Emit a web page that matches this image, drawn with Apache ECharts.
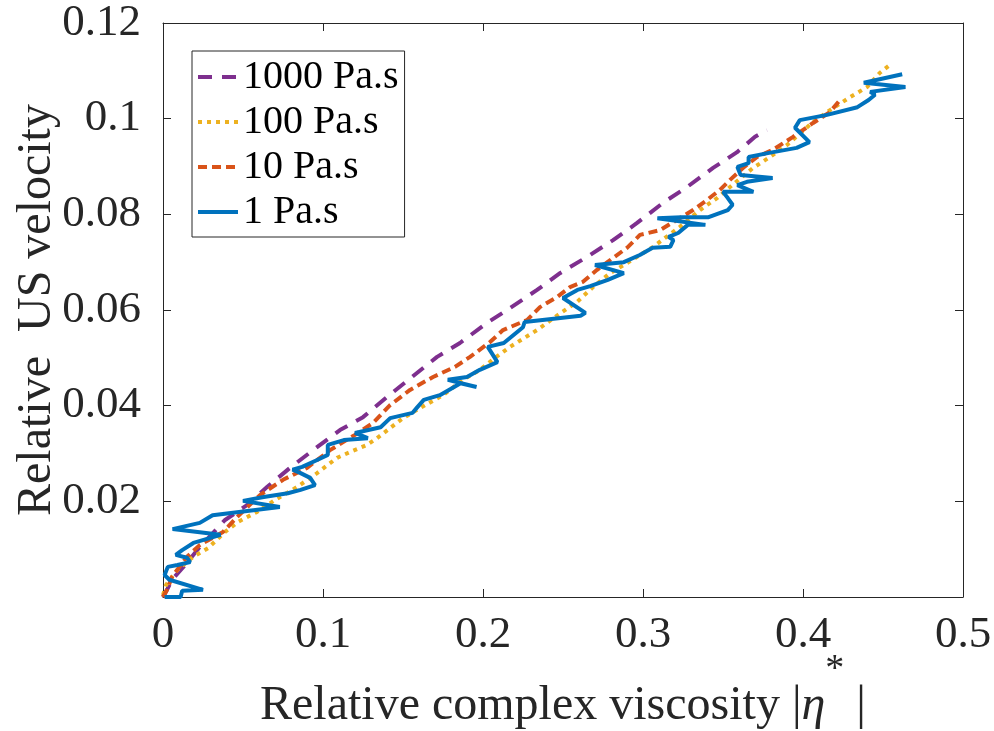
<!DOCTYPE html>
<html>
<head>
<meta charset="utf-8">
<script src="https://cdn.jsdelivr.net/npm/echarts@6/dist/echarts.min.js"></script>
<style>
  html, body { margin: 0; padding: 0; background: #fff; }
  #chart { width: 994px; height: 731px; }
</style>
</head>
<body>
<div id="chart"></div>
<script>
// axis ticks
const xTicks = [0, 0.1, 0.2, 0.3, 0.4, 0.5];
const yTicks = [0, 0.02, 0.04, 0.06, 0.08, 0.1, 0.12];
const legendNames = ['1000 Pa.s', '100 Pa.s', '10 Pa.s', '1 Pa.s'];

// 1000 Pa.s
const x1000 = [0, 0.0025, 0.0056, 0.0138, 0.0231, 0.0388, 0.0525, 0.065, 0.0794, 0.0938, 0.1106, 0.125, 0.140, 0.1556, 0.1713, 0.1856, 0.2025, 0.2169, 0.2338, 0.2481, 0.265, 0.2813, 0.2963, 0.3125, 0.3275, 0.3438, 0.3588, 0.370, 0.3775];
const y1000 = [0, 0.0015, 0.0036, 0.0067, 0.0105, 0.0161, 0.0192, 0.0230, 0.0270, 0.0307, 0.0349, 0.0376, 0.0418, 0.0460, 0.0502, 0.0531, 0.0573, 0.0604, 0.0642, 0.0677, 0.0711, 0.0746, 0.0782, 0.0824, 0.0857, 0.0897, 0.0930, 0.0962, 0.0976];

// 100 Pa.s
const x100 = [0, 0.0019, 0.0088, 0.0188, 0.0281, 0.0388, 0.0469, 0.0588, 0.07, 0.0838, 0.0963, 0.1088, 0.1169, 0.1275, 0.1338, 0.15, 0.1638, 0.175, 0.1875, 0.1981, 0.2075, 0.2169, 0.2338, 0.2469, 0.2588, 0.2688, 0.2794, 0.29, 0.3063, 0.3231, 0.3356, 0.3463, 0.3575, 0.3688, 0.3794, 0.39, 0.4063, 0.4169, 0.4294, 0.44, 0.4481, 0.4556];
const y100 = [0.0004, 0.0025, 0.0056, 0.0084, 0.0102, 0.0136, 0.0157, 0.0178, 0.0203, 0.0230, 0.0259, 0.0291, 0.0303, 0.0318, 0.0332, 0.0374, 0.0401, 0.0422, 0.0454, 0.0475, 0.0500, 0.0523, 0.0558, 0.0590, 0.0617, 0.0648, 0.0677, 0.0698, 0.0732, 0.0774, 0.0809, 0.0834, 0.0866, 0.0897, 0.0920, 0.0945, 0.0993, 0.1018, 0.1045, 0.1066, 0.1096, 0.1116];

// 10 Pa.s
const x10 = [0, 0.0025, 0.0056, 0.015, 0.0231, 0.0375, 0.0463, 0.0606, 0.075, 0.09, 0.1044, 0.12, 0.1313, 0.1419, 0.1544, 0.1688, 0.1825, 0.1919, 0.2044, 0.2125, 0.2275, 0.2356, 0.2463, 0.2544, 0.2625, 0.2713, 0.2813, 0.29, 0.2981, 0.3106, 0.3313, 0.34, 0.3481, 0.3544, 0.3625, 0.3713, 0.3813, 0.3938, 0.4063, 0.4169, 0.4231];
const y10 = [0, 0.0015, 0.0042, 0.0084, 0.0109, 0.0136, 0.0167, 0.0213, 0.0245, 0.0270, 0.0307, 0.0339, 0.0364, 0.0401, 0.0433, 0.0460, 0.0481, 0.0502, 0.0533, 0.0558, 0.0579, 0.0606, 0.0627, 0.0648, 0.0659, 0.0684, 0.0709, 0.0730, 0.0757, 0.0767, 0.0809, 0.0830, 0.0851, 0.0872, 0.0897, 0.0920, 0.0935, 0.0962, 0.0991, 0.1014, 0.1039];

// 1 Pa.s
const x1 = [0.001, 0.011, 0.012, 0.025, 0.026, 0.004, 0.001, 0.003, 0.009, 0.017, 0.015, 0.008, 0.012, 0.019, 0.036, 0.006, 0.023, 0.031, 0.073, 0.050, 0.063, 0.078, 0.086, 0.095, 0.092, 0.086, 0.081, 0.087, 0.096, 0.103, 0.103, 0.113, 0.128, 0.120, 0.136, 0.142, 0.156, 0.159, 0.163, 0.173, 0.186, 0.196, 0.178, 0.190, 0.198, 0.209, 0.203, 0.213, 0.225, 0.226, 0.261, 0.264, 0.250, 0.259, 0.267, 0.278, 0.288, 0.270, 0.288, 0.298, 0.306, 0.317, 0.319, 0.316, 0.322, 0.328, 0.339, 0.309, 0.324, 0.341, 0.353, 0.356, 0.353, 0.350, 0.369, 0.359, 0.365, 0.381, 0.361, 0.359, 0.366, 0.366, 0.378, 0.396, 0.404, 0.395, 0.398, 0.415, 0.434, 0.441, 0.445, 0.442, 0.464, 0.438, 0.462];
const y1 = [0, 0, 0.0013, 0.0015, 0.0019, 0.0036, 0.0046, 0.0063, 0.0067, 0.0073, 0.0082, 0.0088, 0.0098, 0.0113, 0.0130, 0.0142, 0.0155, 0.0171, 0.0188, 0.0201, 0.0209, 0.0217, 0.0224, 0.0234, 0.0249, 0.0259, 0.0266, 0.0272, 0.0286, 0.0297, 0.0318, 0.0328, 0.0332, 0.0343, 0.0355, 0.0374, 0.0385, 0.0397, 0.0412, 0.0422, 0.0447, 0.0439, 0.0454, 0.0460, 0.0475, 0.0491, 0.0523, 0.0531, 0.0564, 0.0575, 0.0588, 0.0594, 0.0625, 0.0642, 0.0650, 0.0663, 0.0677, 0.0694, 0.0700, 0.0715, 0.0730, 0.0732, 0.0746, 0.0753, 0.0761, 0.0778, 0.0778, 0.0792, 0.0794, 0.0794, 0.0809, 0.0820, 0.0834, 0.0847, 0.0847, 0.0861, 0.0868, 0.0876, 0.0882, 0.0899, 0.0907, 0.0920, 0.0928, 0.0939, 0.0951, 0.0981, 0.0997, 0.1008, 0.1024, 0.1039, 0.1050, 0.1056, 0.1066, 0.1075, 0.1093];

const colorList = ['#7E2F8E', '#EDB120', '#D95319', '#0072BD'];
const dashList = [[14, 10], [4, 5], [9, 5], 'solid'];
const axisColor = '#262626';
const serif = 'Liberation Serif, Times New Roman, serif';

function zip(xs, ys) {
	return xs.map(function (x, i) { return [x, ys[i]]; });
}

const seriesData = [zip(x1000, y1000), zip(x100, y100), zip(x10, y10), zip(x1, y1)];

let myChart = echarts.init(document.getElementById('chart'), null, { renderer: 'canvas' });

function makeX(pos, showLabel) {
	return {
		type: 'value',
		position: pos,
		min: xTicks[0],
		max: xTicks[xTicks.length - 1],
		interval: 0.1,
		axisLine: { show: true, onZero: false, lineStyle: { color: axisColor, width: 1 } },
		axisTick: { show: true, inside: true, length: 8, lineStyle: { color: axisColor } },
		splitLine: { show: false },
		axisLabel: {
			show: showLabel,
			margin: 16,
			color: axisColor,
			fontFamily: serif,
			fontSize: 45,
			formatter: function (v) { return String(+v.toFixed(2)); }
		}
	};
}

function makeY(pos, showLabel) {
	return {
		type: 'value',
		position: pos,
		min: yTicks[0],
		max: yTicks[yTicks.length - 1],
		interval: 0.02,
		axisLine: { show: true, onZero: false, lineStyle: { color: axisColor, width: 1 } },
		axisTick: { show: true, inside: true, length: 8, lineStyle: { color: axisColor } },
		splitLine: { show: false },
		axisLabel: {
			show: showLabel,
			margin: 22,
			color: axisColor,
			fontFamily: serif,
			fontSize: 45,
			formatter: function (v) { return v === 0 ? '' : String(+v.toFixed(2)); }
		}
	};
}

let xMain = makeX('bottom', true);
xMain.name = 'Relative complex viscosity |{eta|η}{sup|*}{a| |}';
xMain.nameLocation = 'middle';
xMain.nameGap = 54;
xMain.nameMoveOverlap = false;
xMain.nameTextStyle = {
	color: axisColor,
	fontFamily: serif,
	fontSize: 48,
	lineHeight: 110,
	rich: {
		a: { fontFamily: serif, fontSize: 48, lineHeight: 110, color: axisColor },
		eta: { fontFamily: serif, fontSize: 48, fontStyle: 'italic', lineHeight: 110, color: axisColor },
		sup: { fontFamily: serif, fontSize: 38, lineHeight: 38, verticalAlign: 'top', color: axisColor }
	}
};

let yMain = makeY('left', true);
yMain.name = 'Relative  US velocity';
yMain.nameLocation = 'middle';
yMain.nameGap = 102;
yMain.nameMoveOverlap = false;
yMain.nameTextStyle = { color: axisColor, fontFamily: serif, fontSize: 48 };

let option = {
	backgroundColor: '#fff',
	animation: false,
	grid: { left: 163, top: 23, width: 800, height: 574, outerBoundsMode: 'none', containLabel: false },
	legend: {
		orient: 'vertical',
		left: 192,
		top: 51,
		padding: [6, 6, 5, 4],
		itemGap: 5,
		itemWidth: 40,
		itemHeight: 20,
		borderColor: axisColor,
		borderWidth: 1,
		borderRadius: 0,
		backgroundColor: '#fff',
		data: legendNames,
		itemStyle: { opacity: 0 },
		lineStyle: { width: 4 },
		textStyle: { color: '#000', fontFamily: serif, fontSize: 40 }
	},
	xAxis: [xMain, makeX('top', false)],
	yAxis: [yMain, makeY('right', false)],
	series: legendNames.map(function (name, i) {
		return {
			name: name,
			type: 'line',
			xAxisIndex: 0,
			yAxisIndex: 0,
			data: seriesData[i],
			symbol: 'none',
			showSymbol: false,
			smooth: false,
			clip: true,
			z: 2 + i,
			color: colorList[i],
			lineStyle: { width: 4, color: colorList[i], type: dashList[i], cap: 'butt' }
		};
	})
};

myChart.setOption(option);
</script>
</body>
</html>
